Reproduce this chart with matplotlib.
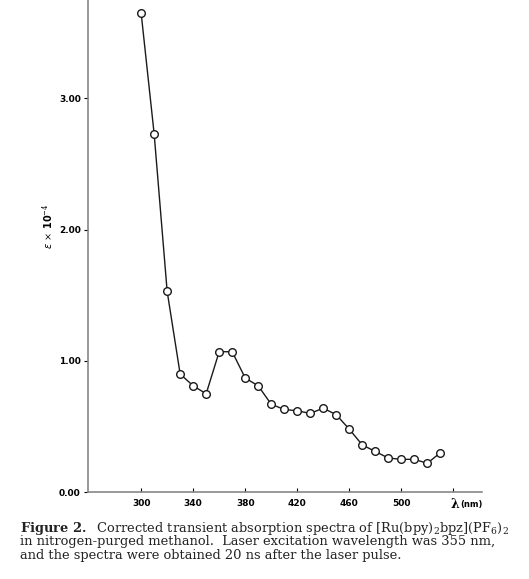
import matplotlib
matplotlib.use("Agg")
import matplotlib.pyplot as plt

# transient absorption spectrum
wavelength = [300, 310, 320, 330, 340, 350, 360, 370, 380, 390, 400, 410,
              420, 430, 440, 450, 460, 470, 480, 490, 500, 510, 520, 530]
eps = [3.65, 2.73, 1.53, 0.90, 0.81, 0.75, 1.07, 1.07, 0.87, 0.81, 0.67, 0.63,
       0.62, 0.60, 0.64, 0.59, 0.48, 0.36, 0.31, 0.26, 0.25, 0.25, 0.22, 0.30]
xticks = [300, 340, 380, 420, 460, 500, 540]
xticklabels = ["300", "340", "380", "420", "460", "500", ""]
yticks = [0.0, 1.0, 2.0, 3.0]

caption_lines = [
    r"$\mathbf{Figure\ 2.}$  Corrected transient absorption spectra of [Ru(bpy)$_2$bpz](PF$_6$)$_2$",
    "in nitrogen-purged methanol.  Laser excitation wavelength was 355 nm,",
    "and the spectra were obtained 20 ns after the laser pulse.",
]

plt.rcParams["mathtext.fontset"] = "custom"
plt.rcParams["mathtext.rm"] = "DejaVu Serif"
plt.rcParams["mathtext.bf"] = "DejaVu Serif:bold"

fig = plt.figure(figsize=(5.29, 5.79), dpi=100)
ax = fig.add_axes([0.166, 0.150, 0.745, 0.850])

ax.plot(wavelength, eps, color="#1a1a1a", lw=1.0, marker="o", ms=5.5,
        mfc="white", mec="#1a1a1a", mew=1.0)

ax.set_xlim(259, 562)
ax.set_ylim(0, 3.75)
ax.set_xticks(xticks)
ax.set_xticklabels(xticklabels)
ax.set_yticks(yticks)
ax.set_yticklabels([f"{v:.2f}" for v in yticks])
for lab in ax.get_xticklabels() + ax.get_yticklabels():
    lab.set_fontweight("bold")
    lab.set_fontsize(6.5)
    lab.set_family("DejaVu Sans")

# axis unit sits in place of the last tick label
xt = ax.get_xaxis_transform()
ax.text(541, -0.011, "λ", fontsize=9, fontweight="bold", family="DejaVu Serif",
        ha="center", va="top", transform=xt)
ax.text(545, -0.016, "(nm)", fontsize=6, fontweight="bold", family="DejaVu Sans",
        ha="left", va="top", transform=xt)

ax.tick_params(axis="x", direction="in", length=3, width=0.8, pad=5)
ax.tick_params(axis="y", direction="out", length=3, width=0.8, pad=2)
for side in ["top", "right"]:
    ax.spines[side].set_visible(False)
for side in ["left", "bottom"]:
    ax.spines[side].set_color("#888888")
    ax.spines[side].set_linewidth(1.2)

ax.set_ylabel(r"$\varepsilon$ $\times$ 10$^{-4}$", fontsize=7, fontweight="bold")
ax.yaxis.set_label_coords(-0.081, 0.54)

# caption, one line at a time to keep the tight spacing of the print
for i, line in enumerate(caption_lines):
    fig.text(20 / 529, 1 - (532 + 13.5 * i) / 579, line, family="DejaVu Serif",
             fontsize=9.35, va="baseline", ha="left", color="#222222")

fig.savefig("out.png", dpi=100)
